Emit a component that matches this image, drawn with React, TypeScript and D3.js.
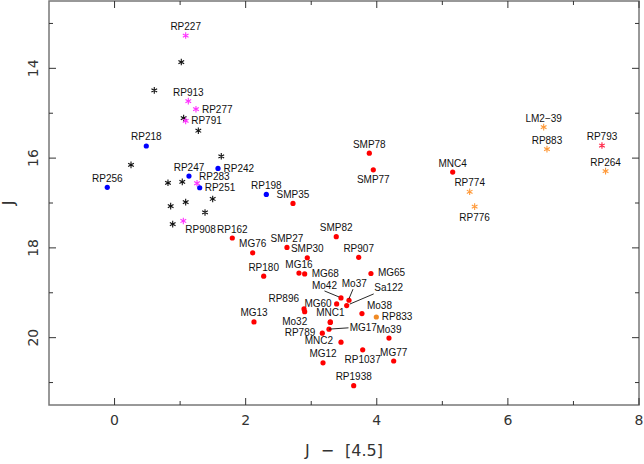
import * as d3 from 'd3'

// colour–magnitude data: [name, J - [4.5], J]
const redDots: [string, number, number][] = [
  ['SMP78', 3.886, 15.89], ['SMP77', 3.947, 16.26], ['MNC4', 5.158, 16.31],
  ['SMP35', 2.722, 17.01], ['RP162', 1.796, 17.78], ['SMP82', 3.382, 17.75],
  ['SMP27', 2.63, 17.99], ['MG76', 2.107, 18.11], ['SMP30', 2.94, 18.22],
  ['RP907', 3.724, 18.21], ['MG16', 2.813, 18.56], ['MG68', 2.9, 18.58],
  ['MG65', 3.911, 18.57], ['RP180', 2.275, 18.63], ['Mo42', 3.454, 19.115],
  ['Mo37', 3.576, 19.166], ['MG60', 3.388, 19.248], ['Sa122', 3.541, 19.286],
  ['RP896', 2.89, 19.36], ['', 2.9, 19.42], ['Mo38', 3.774, 19.464],
  ['Mo32', 3.29, 19.66], ['MNC1', 3.291, 19.65], ['MG13', 2.127, 19.65],
  ['MG17', 3.271, 19.81], ['RP789', 3.169, 19.9], ['Mo39', 4.186, 20.01],
  ['MNC2', 3.454, 20.1], ['RP1037', 3.785, 20.27], ['MG77', 4.258, 20.52],
  ['MG12', 3.18, 20.56], ['RP1938', 3.648, 21.07],
]
const orangeDots: [string, number, number][] = [['RP833', 3.993, 19.54]]
const blueDots: [string, number, number][] = [
  ['RP218', 0.484, 15.73], ['RP242', 1.578, 16.23], ['RP247', 1.135, 16.4],
  ['RP256', -0.111, 16.65], ['RP251', 1.299, 16.66], ['RP198', 2.315, 16.81],
]
const magentaStars: [string, number, number][] = [
  ['RP227', 1.085, 13.27], ['RP913', 1.125, 14.73], ['RP277', 1.242, 14.91],
  ['RP791', 1.085, 15.17], ['RP283', 1.258, 16.56], ['RP908', 1.049, 17.4],
]
const orangeStars: [string, number, number][] = [
  ['LM2\u221239', 6.546, 15.31], ['RP883', 6.596, 15.8], ['RP774', 5.417, 16.75],
  ['RP776', 5.493, 17.08], ['RP264', 7.49, 16.29],
]
const redStars: [string, number, number][] = [['RP793', 7.435, 15.72]]
const blackStars: [string, number, number][] = [
  ['', 1.018, 13.86], ['', 0.606, 14.49], ['', 1.054, 15.11], ['', 1.278, 15.39],
  ['', 1.628, 15.96], ['', 0.251, 16.15], ['', 0.815, 16.55], ['', 1.033, 16.53],
  ['', 1.497, 16.91], ['', 1.085, 16.98], ['', 0.856, 17.07], ['', 1.38, 17.21],
  ['', 0.887, 17.47],
]

const xTicks = [0, 2, 4, 6, 8]
const yTicks = [14, 16, 18, 20]

// label placement: anchor, dx, dy (baseline) relative to the point
const labelAt: Record<string, [string, number, number]> = {
  SMP77: ['middle', 0, 13.7], RP776: ['middle', 0, 14], RP1037: ['middle', 0, 13.7],
  RP908: ['start', 2, 11.7], RP277: ['start', 6, 3.5], RP791: ['start', 5.5, 3.5],
  RP242: ['start', 5.5, 3.5], RP283: ['start', 2, -3.5], RP251: ['start', 5, 3.3],
  MG68: ['start', 7, 3], MG65: ['start', 7, 3], RP833: ['start', 5.5, 3.3],
  Mo38: ['start', 5, -5], MG60: ['end', -5, 3], RP896: ['end', -5, -7],
  Mo32: ['end', -23, 3], RP789: ['end', -7, 2.7], MNC2: ['end', -8, 2],
  Mo42: ['middle', -16.5, -8.5], Mo37: ['middle', 5.3, -13], Sa122: ['middle', 42, -14.7],
  MG17: ['start', 20.7, 1.7],
}
const leaders: Record<string, [number, number, number, number]> = {
  Mo42: [-16.5, -7, -2, -1], Mo37: [4, -11, 0, -1.5],
  Sa122: [27, -11.7, 3, -1.5], MG17: [0, 0, 19.5, -1.3],
}

const W = 644
const H = 464
const x = d3.scaleLinear().domain([-1, 8]).range([49, 639])
const y = d3.scaleLinear().domain([12.5, 21.5]).range([1, 405])

const starPath = (r: number) => {
  const c = Math.cos(Math.PI / 6) * r
  const s = Math.sin(Math.PI / 6) * r
  return `M0,${-r}L0,${r}M${-c},${-s}L${c},${s}M${-c},${s}L${c},${-s}`
}

function Labels({ pts }: { pts: [string, number, number][] }) {
  return (
    <g fontSize={10} fill="#111">
      {pts.filter(p => p[0]).map(([name, px, pj]) => {
        const [anchor, dx, dy] = labelAt[name] || ['middle', 0, -5.5]
        const cx = x(px)
        const cy = y(pj)
        const ld = leaders[name]
        return (
          <g key={name}>
            {ld && (
              <line x1={cx + ld[0]} y1={cy + ld[1]} x2={cx + ld[2]} y2={cy + ld[3]}
                stroke="#111" strokeWidth={0.9} />
            )}
            <text x={cx + dx} y={cy + dy} textAnchor={anchor}>{name}</text>
          </g>
        )
      })}
    </g>
  )
}

function Dots({ pts, color }: { pts: [string, number, number][]; color: string }) {
  return (
    <g fill={color}>
      {pts.map((p, i) => <circle key={i} cx={x(p[1])} cy={y(p[2])} r={2.6} />)}
    </g>
  )
}

function Stars({ pts, color }: { pts: [string, number, number][]; color: string }) {
  return (
    <g stroke={color} strokeWidth={1.1} fill="none">
      {pts.map((p, i) => (
        <path key={i} d={starPath(3.3)} transform={`translate(${x(p[1])},${y(p[2])})`} />
      ))}
    </g>
  )
}

export default function App() {
  const [x0, x1] = x.range()
  const [y0, y1] = y.range()
  const xMinor = d3.range(1, 8, 2)
  const yMinor = d3.range(13, 22, 2)
  const axisCol = '#777'
  const tickCol = '#333'
  return (
    <svg width={W} height={H} style={{ position: 'absolute', left: 0, top: 0, background: '#fff' }}
      fontFamily="'Liberation Sans', Arial, sans-serif">
      <rect x={x0} y={y0} width={x1 - x0} height={y1 - y0} fill="none" stroke={axisCol} strokeWidth={1.5} />
      <g stroke={tickCol} strokeWidth={1}>
        {xTicks.map(t => (
          <g key={'xt' + t}>
            <line x1={x(t)} x2={x(t)} y1={y1} y2={y1 - 7} />
            <line x1={x(t)} x2={x(t)} y1={y0} y2={y0 + 7} />
          </g>
        ))}
        {xMinor.map(t => (
          <g key={'xm' + t}>
            <line x1={x(t)} x2={x(t)} y1={y1} y2={y1 - 4} />
            <line x1={x(t)} x2={x(t)} y1={y0} y2={y0 + 4} />
          </g>
        ))}
        {yTicks.map(t => (
          <g key={'yt' + t}>
            <line x1={x0} x2={x0 + 7} y1={y(t)} y2={y(t)} />
            <line x1={x1} x2={x1 - 7} y1={y(t)} y2={y(t)} />
          </g>
        ))}
        {yMinor.map(t => (
          <g key={'ym' + t}>
            <line x1={x0} x2={x0 + 4} y1={y(t)} y2={y(t)} />
            <line x1={x1} x2={x1 - 4} y1={y(t)} y2={y(t)} />
          </g>
        ))}
      </g>
      <g fontSize={14} fill="#333" fontFamily="'DejaVu Sans', sans-serif">
        {xTicks.map(t => (
          <text key={'xl' + t} x={x(t)} y={y1 + 20} textAnchor="middle">{t}</text>
        ))}
        {yTicks.map(t => (
          <text key={'yl' + t} transform={`translate(37.5,${y(t)}) rotate(-90)`} textAnchor="middle">{t}</text>
        ))}
        <text x={(x0 + x1) / 2} y={456} textAnchor="middle" fontSize={16}>
          <tspan>J</tspan>
          <tspan dx={11}>{'\u2212'}</tspan>
          <tspan dx={11}>[4.5]</tspan>
        </text>
        <text transform={`translate(14,${(y0 + y1) / 2}) rotate(-90)`} textAnchor="middle" fontSize={16}>J</text>
      </g>

      <Stars pts={blackStars} color="#111" />
      <Stars pts={magentaStars} color="#ff33ff" />
      <Stars pts={orangeStars} color="#ff9a3a" />
      <Stars pts={redStars} color="#ff2244" />
      <Dots pts={blueDots} color="#0000ff" />
      <Dots pts={redDots} color="#ff0000" />
      <Dots pts={orangeDots} color="#f08a24" />

      <Labels pts={magentaStars} />
      <Labels pts={orangeStars} />
      <Labels pts={redStars} />
      <Labels pts={blueDots} />
      <Labels pts={redDots} />
      <Labels pts={orangeDots} />
    </svg>
  )
}
